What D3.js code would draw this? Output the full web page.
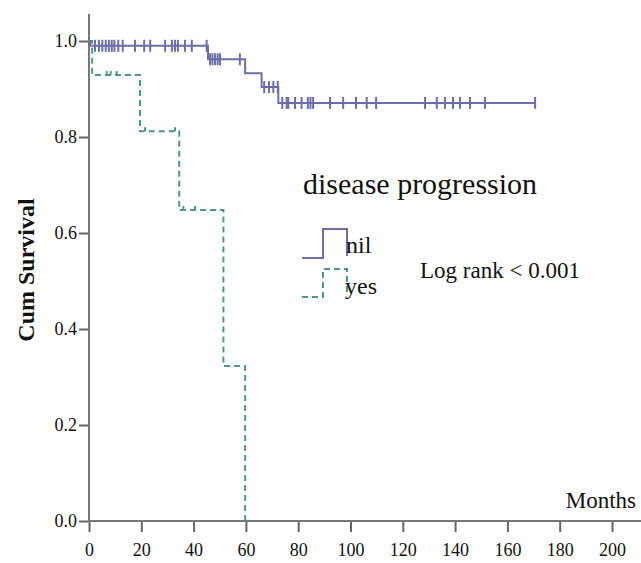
<!DOCTYPE html>
<html lang="en">
<head>
<meta charset="UTF-8">
<script src="https://d3js.org/d3.v7.min.js"></script>
<title>Survival</title>
<style>
  body { margin: 0; background: #fff; }
  text { font-family: "Liberation Serif", "Times New Roman", serif; fill: #111; }
  .tick line { stroke: #666; stroke-width: 2px; }
</style>
</head>
<body>
<div id="container"></div>
<script>
// curve steps: [month, survival after step]
var nilSteps = [[0, 1.0], [0.5, 0.99], [45.5, 0.962], [59.7, 0.933], [66, 0.904], [72.4, 0.871]];
var nilEnd = 170.6;
var nilCensored = [2.3, 3.8, 5.1, 6.4, 7.6, 8.7, 9.7, 11.2, 12.9, 17.6, 21.1, 23.4, 29.1, 31.7, 32.9, 34, 36.7, 39.3, 45,
    46.3, 47.2, 48.2, 49.2, 50.1, 57.7,
    67, 68.8, 70.5, 72.2,
    73.9, 75.6, 76.2, 78.8, 81.3, 83.7, 84.7, 85.7, 92.2, 97.2, 102.1, 106.2, 109.8,
    128.5, 133, 136.1, 139.2, 141.9, 145.7, 151.4, 170.6];

var yesSteps = [[0, 1.0], [1.2, 0.929], [19.5, 0.812], [34.5, 0.648], [51.4, 0.323], [59.7, 0]];
var yesEnd = 59.7;
var yesCensored = [6.8, 8.3, 10.6, 21.4, 32.9, 36.1, 40.5];

var xTicks = [0, 20, 40, 60, 80, 100, 120, 140, 160, 180, 200];
var yTicks = [0, 0.2, 0.4, 0.6, 0.8, 1.0];

var W = 641, H = 563;
var x = d3.scaleLinear().domain([0, 200]).range([89, 612]);
var y = d3.scaleLinear().domain([0, 1]).range([521, 41]);

var svg = d3.select("#container").append("svg")
    .attr("width", W).attr("height", H);

// axes
var xAxis = svg.append("g")
    .attr("transform", "translate(0,521)")
    .call(d3.axisBottom(x).tickValues(xTicks).tickSize(11).tickPadding(6).tickFormat(d3.format("d")));
xAxis.select(".domain").remove();
xAxis.selectAll("text").attr("dy", "1em")
    .attr("font-family", "Liberation Serif").attr("font-size", 18);

var yAxis = svg.append("g")
    .attr("transform", "translate(89,0)")
    .call(d3.axisLeft(y).tickValues(yTicks).tickSize(10).tickPadding(2).tickFormat(d3.format(".1f")));
yAxis.select(".domain").remove();
yAxis.selectAll("text")
    .attr("font-family", "Liberation Serif").attr("font-size", 18);

svg.append("line").attr("x1", 89).attr("x2", 89).attr("y1", 14).attr("y2", 522)
    .attr("stroke", "#777").attr("stroke-width", 2);
svg.append("line").attr("x1", 88).attr("x2", W).attr("y1", 521).attr("y2", 521)
    .attr("stroke", "#777").attr("stroke-width", 2);

// step line builder
function stepPath(steps, end) {
    var pts = [];
    steps.forEach(function (s, i) {
        if (i > 0) pts.push([s[0], steps[i - 1][1]]);
        pts.push(s);
    });
    var last = steps[steps.length - 1];
    if (end > last[0]) pts.push([end, last[1]]);
    return d3.line().x(function (d) { return x(d[0]); }).y(function (d) { return y(d[1]); })(pts);
}

function levelAt(steps, t) {
    var v = steps[0][1];
    steps.forEach(function (s) { if (s[0] <= t) v = s[1]; });
    return v;
}

var nilColor = "#6b6ea8", yesColor = "#4e9a80";

svg.append("path").attr("d", stepPath(yesSteps, yesEnd))
    .attr("fill", "none").attr("stroke", yesColor).attr("stroke-width", 2)
    .attr("stroke-dasharray", "6,4");
svg.selectAll(".ycens").data(yesCensored).enter().append("line")
    .attr("x1", function (d) { return x(d); }).attr("x2", function (d) { return x(d); })
    .attr("y1", function (d) { return y(levelAt(yesSteps, d)) - 4; })
    .attr("y2", function (d) { return y(levelAt(yesSteps, d)); })
    .attr("stroke", yesColor).attr("stroke-width", 2);

svg.append("path").attr("d", stepPath(nilSteps, nilEnd))
    .attr("fill", "none").attr("stroke", nilColor).attr("stroke-width", 2);
svg.selectAll(".ncens").data(nilCensored).enter().append("line")
    .attr("x1", function (d) { return x(d); }).attr("x2", function (d) { return x(d); })
    .attr("y1", function (d) { return y(levelAt(nilSteps, d)) - 6; })
    .attr("y2", function (d) { return y(levelAt(nilSteps, d)) + 6; })
    .attr("stroke", nilColor).attr("stroke-width", 2);

// labels
svg.append("text").attr("x", 636).attr("y", 508).attr("text-anchor", "end")
    .style("font-size", "23px").text("Months");
svg.append("text").attr("transform", "translate(34,270) rotate(-90)").attr("text-anchor", "middle")
    .style("font-size", "24px").style("font-weight", "bold").text("Cum Survival");

// legend
svg.append("text").attr("x", 303).attr("y", 194).style("font-size", "30px").text("disease progression");
svg.append("path").attr("d", "M302,258 H323 V229 H347 V256")
    .attr("fill", "none").attr("stroke", nilColor).attr("stroke-width", 2);
svg.append("path").attr("d", "M302,297 H323 V269 H347 V293")
    .attr("fill", "none").attr("stroke", yesColor).attr("stroke-width", 2).attr("stroke-dasharray", "6,4");
svg.append("text").attr("x", 346).attr("y", 253).style("font-size", "24px").text("nil");
svg.append("text").attr("x", 345).attr("y", 294).style("font-size", "24px").text("yes");
svg.append("text").attr("x", 420).attr("y", 278).style("font-size", "23px").text("Log rank < 0.001");
</script>
</body>
</html>
